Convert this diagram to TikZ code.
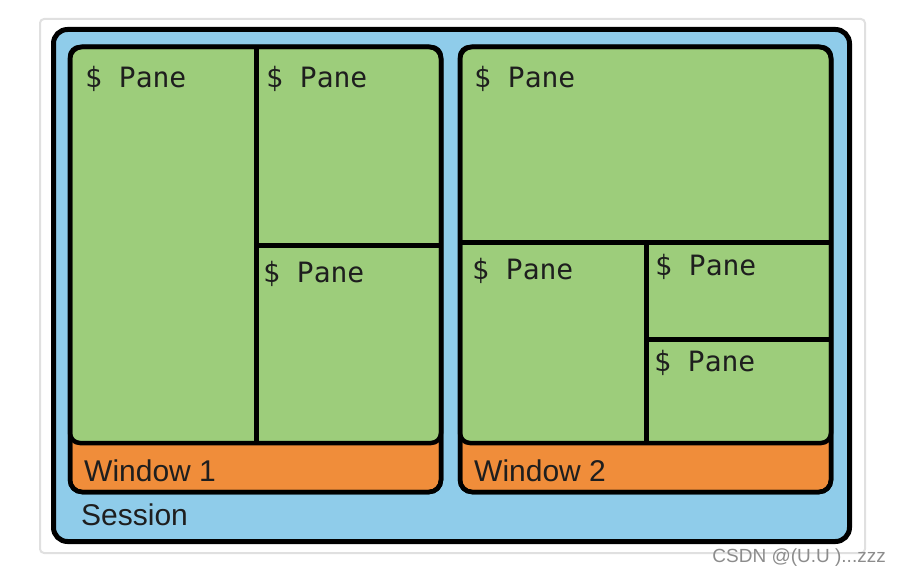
\documentclass[tikz,border=0pt]{standalone}
\usepackage{fontspec}
\newfontfamily\labelfont{Liberation Sans}
\newfontfamily\panefont{DejaVu Sans Mono}
\definecolor{sessionblue}{HTML}{8FCCEA}
\definecolor{panegreen}{HTML}{9DCD7B}
\definecolor{windoworange}{HTML}{F08D3A}
\definecolor{inkgray}{HTML}{1E1E1E}
\tikzset{
  card/.style={fill=white, draw=black!12, line width=2pt, rounded corners=4pt},
  sessionbox/.style={draw, line width=5pt, fill=sessionblue, rounded corners=14pt},
  windowbox/.style={draw, line width=4.5pt, fill=windoworange, rounded corners=12pt},
  panearea/.style={draw, line width=4.5pt, fill=panegreen, rounded corners=10pt},
  windowframe/.style={draw, line width=4.5pt, rounded corners=12pt},
  divider/.style={line width=5pt},
  panelabel/.style={anchor=base west, inner sep=0pt, text=inkgray, font={\panefont\fontsize{28}{30}\selectfont}},
  winlabel/.style={anchor=base west, inner sep=0pt, text=inkgray, font={\labelfont\fontsize{30}{34}\selectfont}},
  watermark/.style={anchor=base east, inner sep=0pt, text=black!45, font={\labelfont\fontsize{19}{22}\selectfont}}
}
\begin{document}
\begin{tikzpicture}[x=1pt,y=-1pt]
  \useasboundingbox (0,0) rectangle (902,575);

  %Boxes
  \path[card] (40,19) rectangle (865,553);
  \path[sessionbox] (53.5,29.5) rectangle (849.5,541.5);

  % Window 1
  \path[windowbox] (70,47) rectangle (441,492);
  \path[panearea] (70,47) rectangle (441,443);
  \draw[divider] (256,47) -- (256,443);
  \draw[divider] (256,245) -- (441,245);
  \path[windowframe] (70,47) rectangle (441,492);

  % Window 2
  \path[windowbox] (460,47) rectangle (831,492);
  \path[panearea] (460,47) rectangle (831,443);
  \draw[divider] (460,242) -- (831,242);
  \draw[divider] (646,242) -- (646,443);
  \draw[divider] (646,339) -- (831,339);
  \path[windowframe] (460,47) rectangle (831,492);

  %Nodes
  \node[panelabel] at (85,88)  (p11) {\$ Pane};
  \node[panelabel] at (266,88) (p12) {\$ Pane};
  \node[panelabel] at (263,282) (p13) {\$ Pane};
  \node[panelabel] at (474,88)  (p21) {\$ Pane};
  \node[panelabel] at (472,279) (p22) {\$ Pane};
  \node[panelabel] at (655,275) (p23) {\$ Pane};
  \node[panelabel] at (654,371) (p24) {\$ Pane};

  \node[winlabel] at (84,481)  (w1) {Window 1};
  \node[winlabel] at (474,481) (w2) {Window 2};
  \node[winlabel] at (81,525)  (s)  {Session};

  \node[watermark] at (886,562) (wm) {CSDN @(U.U )...zzz};
\end{tikzpicture}
\end{document}
